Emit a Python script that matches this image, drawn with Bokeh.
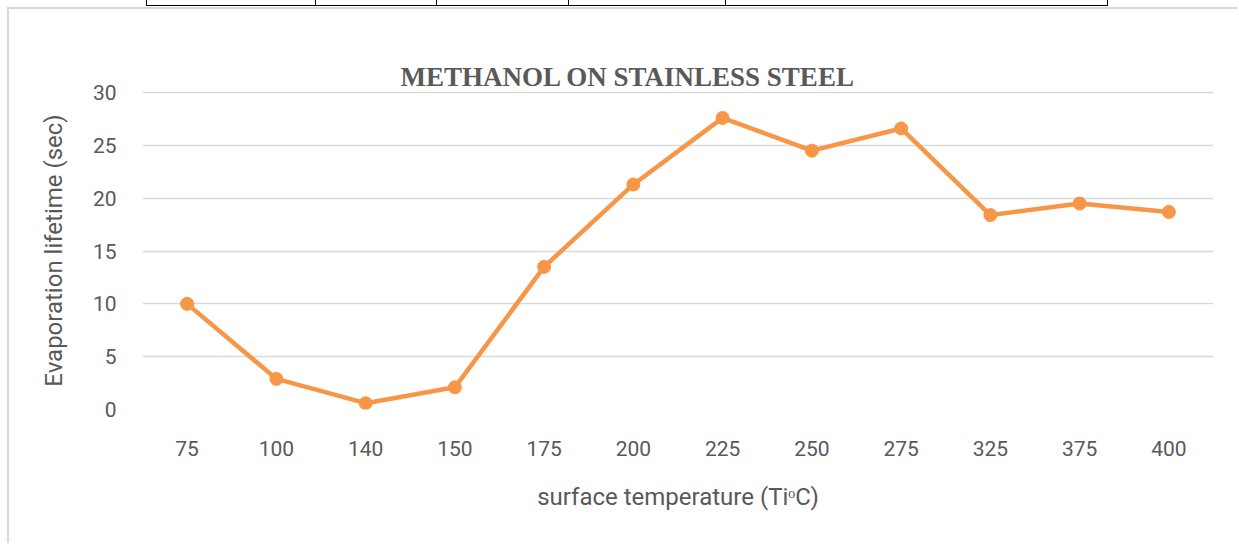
from bokeh.plotting import figure
from bokeh.models import Range1d, FactorRange, ColumnDataSource, InlineStyleSheet, Title
from bokeh.embed import file_html
from bokeh.resources import INLINE

# data
temps = ["75", "100", "140", "150", "175", "200", "225", "250", "275", "325", "375", "400"]
lifetime = [10.0, 2.9, 0.6, 2.1, 13.5, 21.3, 27.6, 24.5, 26.6, 18.4, 19.5, 18.7]
y_ticks = [0, 5, 10, 15, 20, 25, 30]
title_text = "METHANOL ON STAINLESS STEEL"
x_label = "surface temperature (Ti\u1d52C)"
y_label = "Evaporation lifetime (sec)"

src = ColumnDataSource(dict(t=temps, v=lifetime))

table_css = """
:host { overflow: visible !important; }
:host::before {
  content: "";
  position: absolute;
  left: 137px;
  top: -9px;
  width: 960px;
  height: 5px;
  border: 1.5px solid #000;
  border-top: none;
  background-image: linear-gradient(to right,
    transparent 168px, #000 168px, #000 169.5px, transparent 169.5px,
    transparent 289px, #000 289px, #000 290.5px, transparent 290.5px,
    transparent 421px, #000 421px, #000 422.5px, transparent 422.5px,
    transparent 578px, #000 578px, #000 579.5px, transparent 579.5px);
  pointer-events: none;
}
"""

p = figure(
    x_range=FactorRange(*temps), y_range=Range1d(0, 30.1),
    width=1230, height=536, output_backend="svg", toolbar_location=None,
    min_border_left=133, min_border_right=26, min_border_top=82, min_border_bottom=136,
    background_fill_color="white", border_fill_color="white",
    margin=(9, 0, 0, 9),
    styles={"box-shadow": "-2px -2px 0 0 #d9d9d9"},
    stylesheets=[InlineStyleSheet(css=table_css)],
)
p.outline_line_color = None

# inner invisible title acts as spacer between chart title and plot frame
p.title.text = "."
p.title.text_font_size = "1px"
p.title.text_alpha = 0
p.title.standoff = 32

p.add_layout(Title(
    text=title_text, text_font="Liberation Serif", text_font_style="bold",
    text_font_size="27px", text_color="#595959", align="left", offset=258, standoff=0,
), "above")

p.line(x="t", y="v", source=src, line_color="#F79646", line_width=4.5)
p.scatter(x="t", y="v", source=src, size=13, fill_color="#F79646", line_color="#F79646")

for ax in p.axis:
    ax.axis_line_color = None
    ax.major_tick_line_color = None
    ax.minor_tick_line_color = None
    ax.major_label_text_color = "#595959"
    ax.major_label_text_font = "Roboto"
    ax.major_label_text_font_size = "21px"
    ax.axis_label_text_color = "#595959"
    ax.axis_label_text_font = "Roboto"
    ax.axis_label_text_font_size = "24px"
    ax.axis_label_text_font_style = "normal"

p.yaxis.ticker = y_ticks
p.yaxis.major_label_standoff = 20
p.yaxis.axis_label = y_label
p.yaxis.axis_label_standoff = 22

p.xaxis.major_label_standoff = 25
p.xaxis.axis_label = x_label
p.xaxis.axis_label_standoff = 24

p.xgrid.grid_line_color = None
p.ygrid.grid_line_color = "#d9d9d9"
p.ygrid.grid_line_width = 1.3

open("out.html", "w").write(file_html(p, INLINE))
